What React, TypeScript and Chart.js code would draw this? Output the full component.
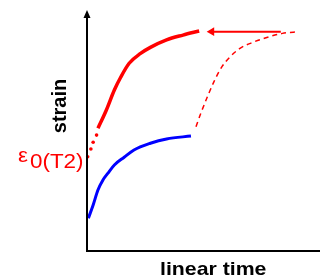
import React, { useEffect, useRef } from "react";
import { Chart, registerables } from "chart.js";

Chart.register(...registerables);

// Blue curve (lower temperature creep curve)
const blueX = [0.06, 0.27, 0.48, 0.7, 0.91, 1.2, 1.63, 2.06, 2.78, 3.49, 4.56];
const blueY = [1.36, 1.91, 2.53, 2.95, 3.22, 3.57, 3.89, 4.19, 4.47, 4.65, 4.77];

// Red solid curve (shifted curve)
const redX = [0.48, 0.85, 1.2, 1.49, 1.85, 2.35, 2.78, 3.49, 4.21, 4.92];
const redY = [5.09, 5.85, 6.68, 7.23, 7.79, 8.2, 8.45, 8.76, 8.96, 9.13];

// Red dotted extrapolation to ε0(T2)
const dotX = [0.03, 0.17, 0.27, 0.42];
const dotY = [3.91, 4.23, 4.51, 4.81];

// Red dashed curve (original position)
const dashX = [4.78, 4.99, 5.28, 5.57, 5.92, 6.28, 6.71, 7.28, 7.85, 8.57, 9.28];
const dashY = [5.16, 5.71, 6.4, 7.03, 7.65, 8.06, 8.41, 8.66, 8.85, 9.03, 9.1];

// Shift arrow
const arrowX = [8.5, 5.47];
const arrowY = [9.1, 9.1];

const xLabel = "linear time";
const yLabel = "strain";
const epsLabel = "ε";
const epsSub = "0(T2)";

const RED = "#ff0000";
const BLUE = "#0000ff";

const pts = (xs: number[], ys: number[]) => xs.map((x, i) => ({ x, y: ys[i] }));

const decorPlugin = {
  id: "decor",
  afterDraw(chart: any) {
    const { ctx, chartArea } = chart;
    const { left, bottom, top } = chartArea;
    ctx.save();
    // axes
    ctx.strokeStyle = "#000";
    ctx.lineWidth = 2;
    ctx.beginPath();
    ctx.moveTo(left, top + 5);
    ctx.lineTo(left, bottom + 1);
    ctx.moveTo(left - 1, bottom);
    ctx.lineTo(chart.width, bottom);
    ctx.stroke();
    // y arrowhead
    ctx.fillStyle = "#000";
    ctx.beginPath();
    ctx.moveTo(left, top);
    ctx.lineTo(left - 3.5, top + 8);
    ctx.lineTo(left + 3.5, top + 8);
    ctx.closePath();
    ctx.fill();

    // y label
    ctx.save();
    ctx.translate(left - 21, 106);
    ctx.rotate(-Math.PI / 2);
    ctx.font = "bold 20px 'Liberation Sans', Arial, sans-serif";
    ctx.textAlign = "center";
    ctx.textBaseline = "alphabetic";
    ctx.fillText(yLabel, 0, 0);
    ctx.restore();

    // x label
    ctx.save();
    ctx.translate(160, 275);
    ctx.scale(1.12, 1);
    ctx.font = "bold 19px 'Liberation Sans', Arial, sans-serif";
    ctx.textAlign = "left";
    ctx.textBaseline = "alphabetic";
    ctx.fillText(xLabel, 0, 0);
    ctx.restore();

    // epsilon label
    ctx.fillStyle = RED;
    ctx.save();
    ctx.translate(18, 162);
    ctx.scale(1.12, 1);
    ctx.font = "20px 'Liberation Sans', Arial, sans-serif";
    ctx.fillText(epsLabel, 0, 0);
    ctx.restore();
    ctx.save();
    ctx.translate(30, 168);
    ctx.scale(1.12, 1);
    ctx.font = "20px 'Liberation Sans', Arial, sans-serif";
    ctx.fillText(epsSub, 0, 0);
    ctx.restore();

    ctx.restore();
  },
};

export default function App() {
  const ref = useRef<HTMLCanvasElement | null>(null);
  useEffect(() => {
    if (!ref.current) return;
    const chart = new Chart(ref.current, {
      type: "scatter",
      data: {
        datasets: [
          {
            data: pts(blueX, blueY),
            showLine: true,
            borderColor: BLUE,
            borderWidth: 3,
            pointRadius: 0,
            cubicInterpolationMode: "monotone",
            clip: false,
          } as any,
          {
            data: pts(redX, redY),
            showLine: true,
            borderColor: RED,
            borderWidth: 3.5,
            pointRadius: 0,
            cubicInterpolationMode: "monotone",
            clip: false,
          } as any,
          {
            data: pts(dotX, dotY),
            showLine: false,
            pointRadius: 1.8,
            pointBorderWidth: 0,
            backgroundColor: RED,
            borderColor: RED,
            clip: false,
          } as any,
          {
            data: pts(dashX, dashY),
            showLine: true,
            borderColor: RED,
            borderWidth: 1.5,
            borderDash: [5, 4],
            pointRadius: 0,
            cubicInterpolationMode: "monotone",
            clip: false,
          } as any,
          {
            data: pts(arrowX, arrowY),
            showLine: true,
            borderColor: RED,
            borderWidth: 2,
            pointStyle: "triangle",
            pointRotation: -90,
            pointRadius: [0, 5],
            pointBorderWidth: 0,
            backgroundColor: RED,
            clip: false,
          } as any,
        ],
      },
      options: {
        animation: false,
        responsive: false,
        events: [],
        layout: { padding: { left: 87, right: 0, top: 10, bottom: 28 } },
        plugins: { legend: { display: false }, tooltip: { enabled: false } },
        scales: {
          x: { type: "linear", min: 0, max: 10, display: false },
          y: { type: "linear", min: 0, max: 10, display: false },
        },
      },
      plugins: [decorPlugin],
    });
    return () => chart.destroy();
  }, []);
  return (
    <div style={{ position: "fixed", left: 0, top: 0, width: 320, height: 279, background: "#fff" }}>
      <canvas ref={ref} width={320} height={279} />
    </div>
  );
}
